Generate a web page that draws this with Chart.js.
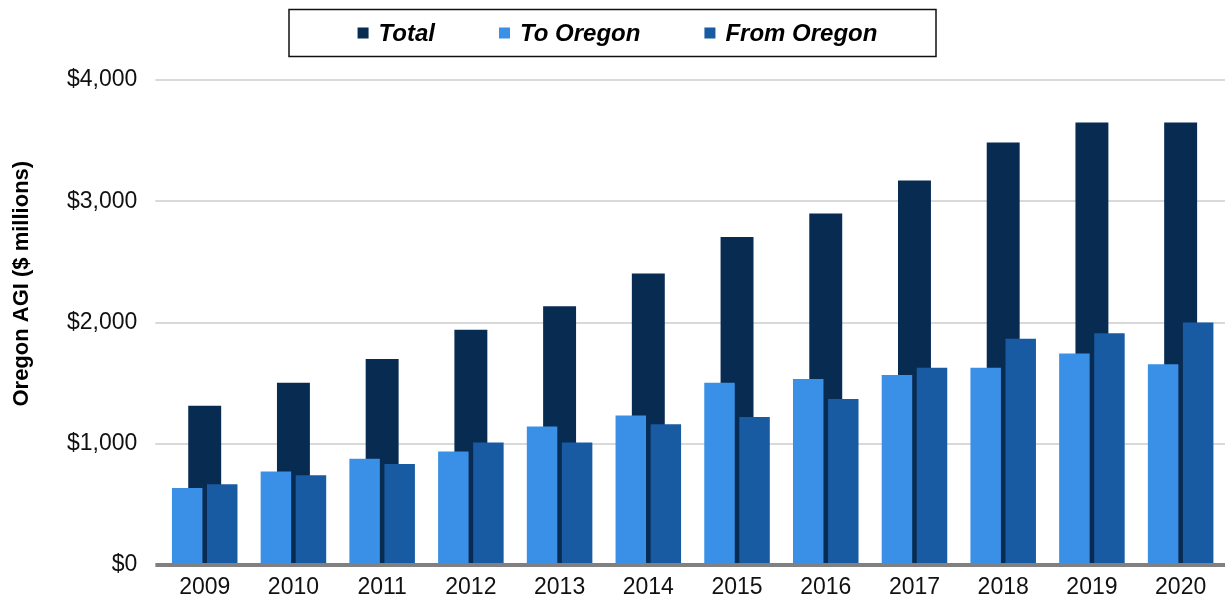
<!DOCTYPE html>
<html>
<head>
<meta charset="utf-8">
<script src="https://cdn.jsdelivr.net/npm/chart.js@4"></script>
<style>
    body { margin: 0; background: #fff; }
    #wrap { width: 1225px; height: 605px; position: relative; }
</style>
</head>
<body>
<div id="wrap"><canvas id="agi-chart"></canvas></div>
<script>
// data ($ millions)
var years = ["2009", "2010", "2011", "2012", "2013", "2014", "2015", "2016", "2017", "2018", "2019", "2020"];
var totalAgi = [1314, 1504, 1700, 1940, 2135, 2405, 2705, 2898, 3171, 3485, 3650, 3650];
var toOregon = [636, 771, 876, 937, 1143, 1234, 1504, 1535, 1568, 1626, 1744, 1655];
var fromOregon = [667, 741, 832, 1011, 1011, 1160, 1220, 1369, 1626, 1865, 1912, 2000];
var yTicks = [0, 1000, 2000, 3000, 4000];

var FONT = '"Liberation Sans", Arial, sans-serif';
var Y_TITLE = 'Oregon AGI ($ millions)';

// boxed legend across the top + y axis title (sits above the axis middle)
var legendBox = {
    id: 'legendBox',
    afterDraw: function (chart) {
        var ctx = chart.ctx;
        var cx = chart.width / 2;
        ctx.save();
        ctx.strokeStyle = '#111';
        ctx.lineWidth = 1.5;
        ctx.strokeRect(cx - 323.5, 9.5, 647, 47);

        ctx.font = 'italic bold 24px ' + FONT;
        ctx.textBaseline = 'middle';
        var box = 11, gap = 10, spacing = 64, cy = 33;
        var items = chart.data.datasets.map(function (ds) {
            return { text: ds.label, color: ds.backgroundColor, w: ctx.measureText(ds.label).width };
        });
        var total = spacing * (items.length - 1);
        items.forEach(function (it) { total += box + gap + it.w; });
        var x = cx + 5 - total / 2;
        items.forEach(function (it) {
            ctx.fillStyle = it.color;
            ctx.fillRect(x, cy - box / 2, box, box);
            ctx.fillStyle = '#000';
            ctx.fillText(it.text, x + box + gap, cy + 1);
            x += box + gap + it.w + spacing;
        });

        // y title
        ctx.translate(22, chart.chartArea.top + (chart.chartArea.bottom - chart.chartArea.top) * 0.42);
        ctx.rotate(-Math.PI / 2);
        ctx.font = 'bold 22px ' + FONT;
        ctx.textAlign = 'center';
        ctx.fillText(Y_TITLE, 0, 0);
        ctx.restore();
    }
};

var chartData = {
    labels: years,
    datasets: [
        {
            label: "Total",
            data: totalAgi,
            backgroundColor: "#082b52",
            grouped: false,
            order: 1,
            categoryPercentage: 0.79,
            barPercentage: 0.47
        },
        {
            label: "To Oregon",
            data: toOregon,
            backgroundColor: "#3a90e6",
            order: 0,
            categoryPercentage: 0.79,
            barPercentage: 0.87
        },
        {
            label: "From Oregon",
            data: fromOregon,
            backgroundColor: "#185ba3",
            order: 0,
            categoryPercentage: 0.79,
            barPercentage: 0.87
        }
    ]
};

function draw() {
    new Chart(document.getElementById('agi-chart'), {
        type: 'bar',
        data: chartData,
        plugins: [legendBox],
        options: {
            responsive: true,
            maintainAspectRatio: false,
            animation: false,
            layout: { padding: { top: 80, left: 49, right: 0, bottom: 3 } },
            plugins: {
                legend: { display: false },
                tooltip: { enabled: false }
            },
            scales: {
                x: {
                    offset: true,
                    grid: { display: false },
                    border: { display: false },
                    ticks: { color: '#111', font: { family: FONT, size: 23, lineHeight: 1 }, padding: 3 }
                },
                y: {
                    min: 0,
                    max: 4000,
                    afterBuildTicks: function (axis) {
                        axis.ticks = yTicks.map(function (v) { return { value: v }; });
                    },
                    border: { display: false },
                    grid: {
                        color: function (c) { return c.tick && c.tick.value === 0 ? '#808080' : '#d9d9d9'; },
                        lineWidth: function (c) { return c.tick && c.tick.value === 0 ? 4 : 2; },
                        tickLength: 5
                    },
                    ticks: {
                        color: '#111',
                        font: { family: FONT, size: 23 },
                        padding: 18,
                        callback: function (v) { return '$' + Number(v).toLocaleString('en-US'); }
                    }
                }
            }
        }
    });
}

draw();
</script>
</body>
</html>
